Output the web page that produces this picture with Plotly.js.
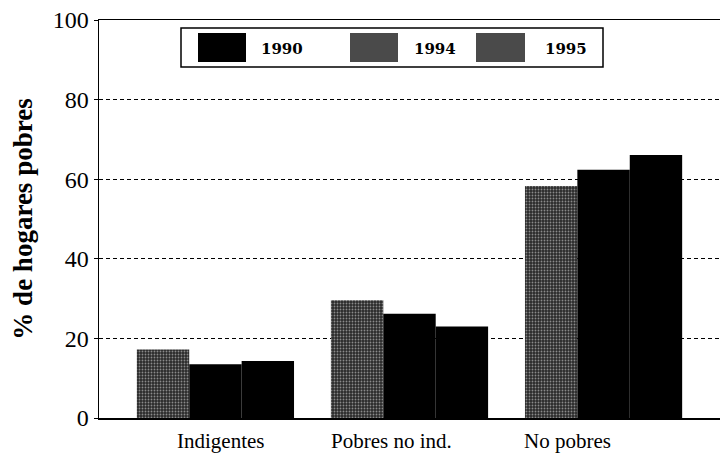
<!DOCTYPE html>
<html>
<head>
<meta charset="utf-8">
<script src="https://cdn.plot.ly/plotly-3.0.1.min.js"></script>
<style>html,body{margin:0;padding:0;background:#fff;}#chart{width:720px;height:455px;}</style>
</head>
<body>
<div id="chart"></div>
<script>
const categories = ["Indigentes", "Pobres no ind.", "No pobres"];
const seriesNames = ["1990", "1994", "1995"];
const values1990 = [17.2, 29.6, 58.3];
const values1994 = [13.5, 26.2, 62.4];
const values1995 = [14.3, 23.0, 66.1];
const yTicks = [0, 20, 40, 60, 80, 100];

const greyPattern = {shape: '.', fgcolor: '#8a8a8a', bgcolor: '#2a2a2a', size: 3, solidity: 0.3, fillmode: 'replace'};
const barStyles = [
  {color: '#444', pattern: greyPattern, line: {width: 0}},
  {color: '#000', line: {width: 0}},
  {color: '#000', line: {width: 0}}
];
const allValues = [values1990, values1994, values1995];
const traces = allValues.map((v, i) => ({
  type: 'bar', x: categories, y: v, name: seriesNames[i],
  marker: barStyles[i], showlegend: false, hoverinfo: 'skip'
}));

// legend drawn in pixel coords, converted to paper
const L = 99, R = 720, T = 20, B = 418;
const px = x => (x - L) / (R - L);
const py = y => 1 - (y - T) / (B - T);
const shapes = [
  {type: 'rect', xref: 'paper', yref: 'paper', x0: px(181), x1: px(603), y0: py(67), y1: py(28),
   line: {color: '#000', width: 1.5}, fillcolor: '#fff', layer: 'above'}
];
const legendSwatch = [[198, 246, '#000'], [350, 398, '#4a4a4a'], [476, 525, '#4a4a4a']];
const legendTextX = [282, 435, 566];
const annotations = [];
seriesNames.forEach((n, i) => {
  const s = legendSwatch[i];
  shapes.push({type: 'rect', xref: 'paper', yref: 'paper', x0: px(s[0]), x1: px(s[1]), y0: py(62), y1: py(33),
    line: {width: 0}, fillcolor: s[2], layer: 'above'});
  annotations.push({xref: 'paper', yref: 'paper', x: px(legendTextX[i]), y: py(49), text: '<b>' + n + '</b>',
    showarrow: false, xanchor: 'center', yanchor: 'middle',
    font: {family: 'DejaVu Serif, serif', size: 15, color: '#000'}});
});
// category labels placed under each category (offsets as in the original print)
const labelShift = [5, -18, -36];
categories.forEach((c, i) => {
  annotations.push({xref: 'x', yref: 'paper', x: c, y: 0, yshift: -10, xshift: labelShift[i],
    text: c, showarrow: false, xanchor: 'center', yanchor: 'top', borderpad: 0,
    font: {family: 'Liberation Serif, serif', size: 21, color: '#000'}});
});

const layout = {
  width: 720, height: 455,
  margin: {l: L, r: 0, t: T, b: 455 - B},
  paper_bgcolor: '#fff', plot_bgcolor: '#fff',
  barmode: 'group', bargap: 0.19, bargroupgap: 0,
  font: {family: 'Liberation Serif, serif', color: '#000'},
  xaxis: {
    type: 'category', range: [-0.6, 2.6],
    showline: true, linecolor: '#000', linewidth: 1.5, mirror: true,
    ticks: '', showgrid: false, showticklabels: false, fixedrange: true
  },
  yaxis: {
    range: [0, 100], tickvals: yTicks, ticktext: yTicks.map(String),
    showline: true, linecolor: '#000', linewidth: 1.5,
    ticks: 'outside', ticklen: 4, tickcolor: '#000',
    showgrid: true, gridcolor: '#000', gridwidth: 1, griddash: '4px,3px',
    zeroline: false, tickfont: {size: 24},
    title: {text: '<b>% de hogares pobres</b>', font: {size: 27}, standoff: 12}
  },
  shapes: shapes,
  annotations: annotations
};
Plotly.newPlot('chart', traces, layout, {displayModeBar: false, staticPlot: true});
</script>
</body>
</html>
